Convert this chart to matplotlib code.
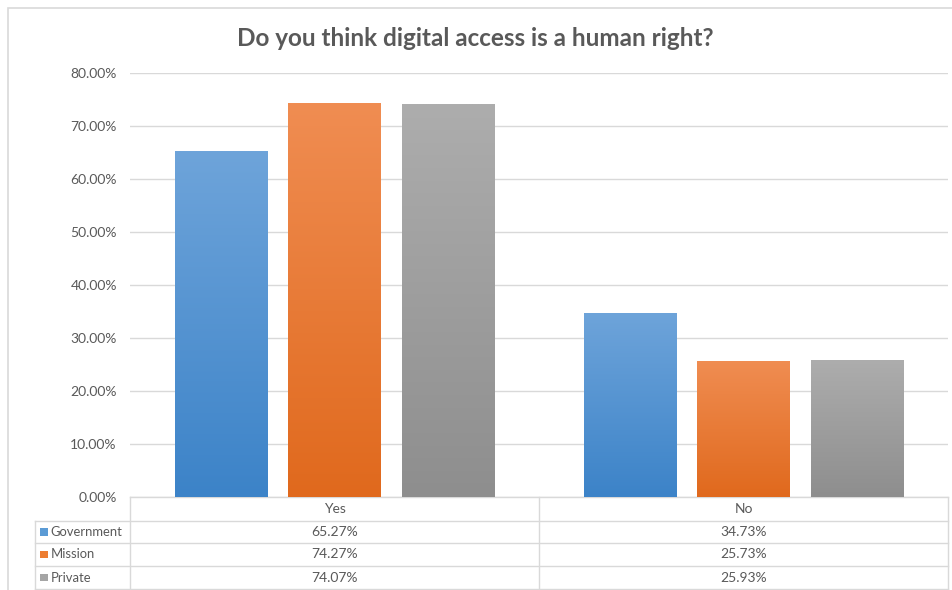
import numpy as np
import matplotlib.pyplot as plt
from matplotlib.colors import LinearSegmentedColormap
from matplotlib.patches import Rectangle
from matplotlib.transforms import blended_transform_factory

# Survey answers (percent of respondents per school type)
categories = ["Yes", "No"]
series = ["Government", "Mission", "Private"]
government = [65.27, 34.73]
mission = [74.27, 25.73]
private = [74.07, 25.93]
values = [government, mission, private]

# top / bottom shade of each series' gradient fill
shades = [("#6ea4da", "#3c83c8"), ("#f08d52", "#e0691d"), ("#adadad", "#8e8e8e")]
base_colors = ["#5b9bd5", "#ed7d31", "#a5a5a5"]

W, H = 952, 590
plt.rcParams['font.family'] = ['Lato', 'DejaVu Sans']
text_color = "#595959"
line_color = "#d9d9d9"

fig = plt.figure(figsize=(W / 100, H / 100), dpi=100)

def fx(px):
    return px / W

def fy(py):
    return 1 - py / H

# outer chart border
fig.patches.append(Rectangle((fx(8), -0.1), 1.2, fy(8) + 0.1, transform=fig.transFigure,
                             fill=False, edgecolor=line_color, linewidth=1.2))

fig.text(fx(475), fy(39), "Do you think digital access is a human right?",
         ha="center", va="center", fontsize=17.5, fontweight="bold", color=text_color)

ax_left, ax_right, ax_top, ax_bottom = 130, 948, 73, 497
ax = fig.add_axes([fx(ax_left), fy(ax_bottom), fx(ax_right - ax_left), (ax_bottom - ax_top) / H])

x = np.arange(len(categories))
width = 0.225
offset = 0.278
for i, (name, vals) in enumerate(zip(series, values)):
    bars = ax.bar(x + (i - 1) * offset, vals, width, color=base_colors[i], zorder=2, label=name)
    cmap = LinearSegmentedColormap.from_list(name, [shades[i][1], shades[i][0]])
    for b in bars:
        x0, y0 = b.get_x(), b.get_y()
        grad = np.linspace(0, 1, 256).reshape(-1, 1)
        im = ax.imshow(grad, cmap=cmap, origin="lower", aspect="auto", zorder=3,
                       extent=(x0, x0 + b.get_width(), y0, y0 + b.get_height()))
        im.set_clip_path(b)

ax.set_xlim(-0.5, len(categories) - 0.5)
ax.set_ylim(0, 80)
ax.set_yticks(np.arange(0, 81, 10))
ax.set_yticklabels([f"{t:.2f}%" for t in np.arange(0, 81, 10)])
ax.tick_params(axis="y", length=0, pad=9.5, labelsize=10, labelcolor=text_color)
ax.tick_params(axis="x", length=0, labelbottom=False)
ax.grid(axis="y", color=line_color, linewidth=1, zorder=0)
for s in ax.spines.values():
    s.set_visible(False)

# data table below the plot
tr = blended_transform_factory(ax.transData, fig.transFigure)
rows = [497, 521, 543, 566, 589]
legend_left = -0.5 - (ax_left - 35) / (ax_right - ax_left) * len(categories)
right = len(categories) - 0.5
lw = 1
# horizontal rules
ax.plot([-0.5, right], [fy(rows[0])] * 2, transform=tr, clip_on=False, color=line_color, lw=lw)
for r in rows[1:]:
    ax.plot([legend_left, right], [fy(r)] * 2, transform=tr, clip_on=False, color=line_color, lw=lw)
# vertical rules
ax.plot([legend_left] * 2, [fy(rows[1]), fy(rows[-1])], transform=tr, clip_on=False, color=line_color, lw=lw)
for k in range(len(categories) + 1):
    ax.plot([k - 0.5] * 2, [fy(rows[0]), fy(rows[-1])], transform=tr, clip_on=False, color=line_color, lw=lw)

for j, cat in enumerate(categories):
    ax.text(j, fy((rows[0] + rows[1]) / 2), cat, transform=tr, ha="center", va="center",
            fontsize=10, color=text_color)
for i, (name, vals) in enumerate(zip(series, values)):
    yc = fy((rows[i + 1] + rows[i + 2]) / 2)
    fig.patches.append(Rectangle((fx(40), yc - 3.5 / H), 7.5 / W, 7.5 / H, transform=fig.transFigure,
                                 facecolor=base_colors[i], edgecolor="none"))
    fig.text(fx(50.5), yc, name, ha="left", va="center", fontsize=9.4, color=text_color)
    for j, v in enumerate(vals):
        ax.text(j, yc, f"{v:.2f}%", transform=tr, ha="center", va="center",
                fontsize=10, color=text_color)

fig.savefig("out.png", dpi=100)
